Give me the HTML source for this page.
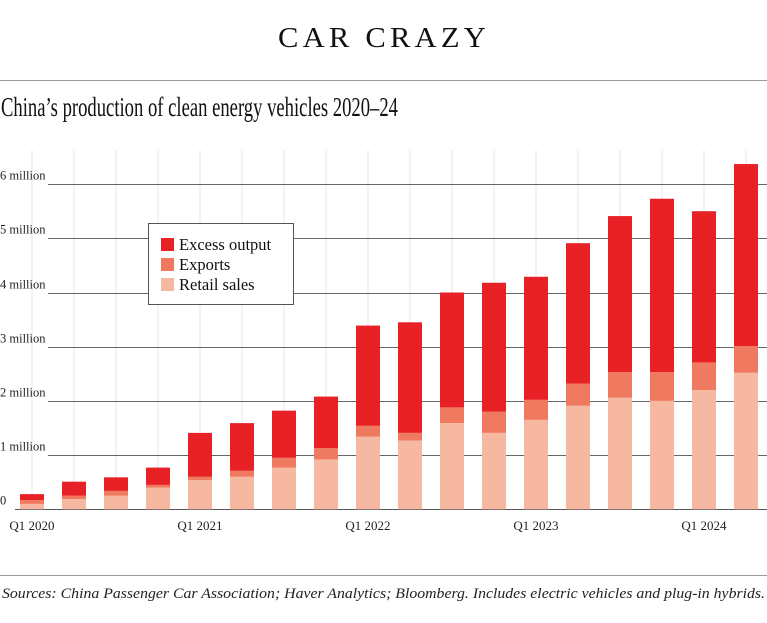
<!DOCTYPE html>
<html><head><meta charset="utf-8"><style>
body{margin:0;background:#fff}
svg{display:block;font-family:"Liberation Serif",serif}
</style></head><body>
<svg id="chart" width="767" height="623" viewBox="0 0 767 623" xmlns="http://www.w3.org/2000/svg">
<text x="384" y="47" text-anchor="middle" font-size="29" letter-spacing="4" textLength="212" lengthAdjust="spacingAndGlyphs" fill="#111">CAR CRAZY</text>
<line x1="0" y1="80.5" x2="767" y2="80.5" stroke="#999" stroke-width="1"/>
<text x="1" y="116" font-size="27" textLength="397" lengthAdjust="spacingAndGlyphs" fill="#111">China’s production of clean energy vehicles 2020–24</text>
<g id="grid"></g><g id="bars"></g><g id="xlabels"></g>
<g>
<rect x="148.5" y="223.5" width="145" height="81" fill="#fff" stroke="#555" stroke-width="1"/>
<rect x="161" y="238" width="13" height="13" fill="#e82127"/>
<text x="179" y="250" font-size="16.5" fill="#111">Excess output</text>
<rect x="161" y="258" width="13" height="13" fill="#f07a60"/>
<text x="179" y="270" font-size="16.5" fill="#111">Exports</text>
<rect x="161" y="278" width="13" height="13" fill="#f6b8a0"/>
<text x="179" y="290" font-size="16.5" fill="#111">Retail sales</text>
</g>
<line x1="0" y1="575.5" x2="767" y2="575.5" stroke="#999" stroke-width="1"/>
<text x="2" y="598" font-size="15" font-style="italic" textLength="763" lengthAdjust="spacingAndGlyphs" fill="#222">Sources: China Passenger Car Association; Haver Analytics; Bloomberg. Includes electric vehicles and plug-in hybrids.</text>
</svg>
<script>
const categories=["Q1 2020","Q2 2020","Q3 2020","Q4 2020","Q1 2021","Q2 2021","Q3 2021","Q4 2021","Q1 2022","Q2 2022","Q3 2022","Q4 2022","Q1 2023","Q2 2023","Q3 2023","Q4 2023","Q1 2024","Q2 2024"];
const retail=[0.10,0.19,0.25,0.40,0.54,0.60,0.77,0.92,1.34,1.27,1.59,1.41,1.65,1.91,2.06,2.00,2.20,2.52];
const exportsV=[0.07,0.06,0.09,0.05,0.06,0.11,0.18,0.21,0.20,0.14,0.29,0.39,0.37,0.41,0.47,0.53,0.51,0.49];
const excess=[0.11,0.26,0.25,0.32,0.81,0.88,0.87,0.95,1.85,2.04,2.12,2.38,2.27,2.59,2.88,3.20,2.79,3.36];
const yTicks=[0,1,2,3,4,5,6];
const yTickLabels=["0","1 million","2 million","3 million","4 million","5 million","6 million"];
const xLabelIdx=[0,4,8,12,16];
const NS="http://www.w3.org/2000/svg";
const y0=509.3,ppu=54.2,x0=32,step=42,bw=24;
const yS=v=>y0-v*ppu, xS=i=>x0+i*step;
function mk(tag,attrs,parent){const e=document.createElementNS(NS,tag);for(const k in attrs)e.setAttribute(k,attrs[k]);parent.appendChild(e);return e;}
const grid=document.getElementById('grid'),bars=document.getElementById('bars'),xl=document.getElementById('xlabels');
categories.forEach((c,i)=>{
 const l=mk('line',{x1:xS(i),x2:xS(i),y1:150,y2:y0,stroke:'#e6e6e6','stroke-width':1},grid);
 
 
});
yTicks.forEach((t,k)=>{
 const y=Math.round(yS(t))+0.5;
 const lab=yTickLabels[k];
 const tx=mk('text',{x:0,y:y-5,'font-size':12.5,fill:'#222'},grid);tx.textContent=lab;
 
 
 const ln=mk('line',{x1:t===0?15:48,x2:767,y1:y,y2:y,stroke:t===0?'#555':'#666','stroke-width':1},grid);
 
 
});
categories.forEach((c,i)=>{
 const x=xS(i)-bw/2;let base=0;
 [[retail[i],'#f6b8a0','bar-retail'],[exportsV[i],'#f07a60','bar-exports'],[excess[i],'#e82127','bar-excess']].forEach(([v,col,nm])=>{
  const r=mk('rect',{x:x,y:yS(base+v),width:bw,height:v*ppu,fill:col},bars);
  
  
  base+=v;
 });
});
xLabelIdx.forEach(i=>{
 const t=mk('text',{x:xS(i),y:530,'text-anchor':'middle','font-size':13,fill:'#222'},xl);t.textContent=categories[i];
 
 
});
</script>
</body></html>
